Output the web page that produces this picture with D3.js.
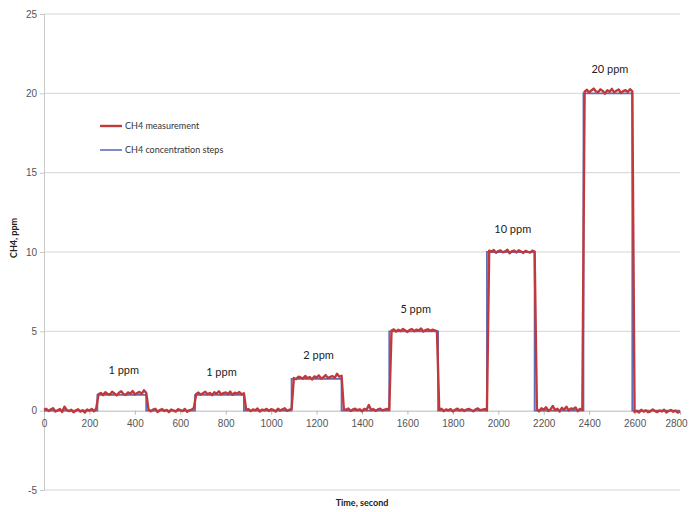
<!DOCTYPE html>
<html>
<head>
<meta charset="utf-8">
<script src="https://cdn.jsdelivr.net/npm/d3@7"></script>
<style>
  body { margin: 0; background: #fff; }
  svg { display: block; font-family: Lato, "Open Sans", sans-serif; }
</style>
</head>
<body>
<svg id="chart" width="689" height="512"></svg>
<script>
// measurement sampled every 10 s, 0..2800
const measStart = 0, measStep = 10;
const measValues = [
  0.05, 0.12, -0.02, 0.08, 0.15, -0.05, 0.02, 0.10, -0.08, 0.25, 0.04, -0.03, 0.06, -0.10, 0.01, 0.09, -0.06, 0.03, -0.12, 0.07, 0.00, 0.11, -0.04, 0.14,
  1.03, 1.12, 0.98, 1.16, 1.05, 1.01, 1.19, 1.08, 0.96, 1.13, 1.22, 1.04, 0.99, 1.15, 1.07, 1.24, 1.02, 1.11, 1.18, 1.06, 1.28, 1.13,
  0.08, -0.04, 0.06, 0.12, -0.08, 0.03, 0.10, -0.02, 0.05, -0.10, 0.07, 0.01, -0.06, 0.09, 0.04, -0.03, 0.11, -0.07, 0.02, 0.06, 0.18,
  1.05, 1.14, 1.01, 1.10, 1.19, 1.03, 1.12, 0.98, 1.16, 1.07, 1.22, 1.02, 1.11, 1.15, 1.04, 1.20, 1.00, 1.13, 1.08, 1.17, 1.03, 1.10,
  0.06, 0.10, -0.03, 0.08, 0.02, 0.14, -0.05, 0.07, 0.03, 0.11, -0.02, 0.09, 0.05, -0.06, 0.12, 0.01, 0.08, 0.15, -0.01, 0.06, 0.10,
  2.06, 1.99, 2.14, 2.09, 2.02, 2.19, 2.04, 2.12, 1.96, 2.16, 2.08, 2.22, 2.03, 2.10, 2.24, 2.05, 2.13, 2.18, 2.07, 2.32, 2.14, 2.20,
  0.10, 0.05, 0.14, -0.02, 0.08, 0.12, 0.03, 0.09, -0.04, 0.11, 0.06, 0.35, 0.04, 0.10, -0.01, 0.08, 0.13, 0.02, 0.07, 0.11, 0.05,
  5.05, 5.12, 4.98, 5.10, 5.02, 5.15, 5.06, 4.96, 5.09, 5.14, 5.01, 5.11, 5.04, 5.18, 4.99, 5.08, 5.13, 5.03, 5.10, 5.06, 5.00,
  0.05, 0.12, -0.03, 0.08, 0.02, 0.10, -0.05, 0.06, 0.13, 0.01, 0.09, -0.02, 0.07, 0.11, 0.04, -0.04, 0.08, 0.14, 0.03, 0.06, 0.10, 0.02,
  10.08, 10.02, 10.12, 9.95, 10.06, 10.10, 9.98, 10.04, 10.14, 9.92, 10.05, 10.09, 9.97, 10.11, 10.03, 9.94, 10.07, 10.01, 9.96, 10.08, 10.02,
  0.10, -0.04, 0.15, 0.05, 0.22, -0.02, 0.08, 0.30, 0.03, 0.12, -0.05, 0.18, 0.06, 0.25, 0.01, 0.14, 0.09, 0.20, -0.03, 0.11, 0.07,
  20.10, 20.22, 20.05, 20.18, 20.30, 20.12, 20.08, 20.25, 20.15, 19.98, 20.20, 20.10, 20.28, 20.06, 20.16, 20.24, 20.02, 20.14, 20.20, 20.08, 20.26, 20.12,
  -0.08, -0.02, -0.12, 0.05, -0.06, 0.02, -0.10, -0.04, 0.08, -0.03, -0.09, 0.01, -0.05, 0.06, -0.11, -0.02, 0.04, -0.07, 0.00, -0.12, -0.06
];

// concentration step schedule
const stepTimes  = [0, 235, 450, 665, 880, 1090, 1310, 1520, 1735, 1950, 2160, 2375, 2590, 2800];
const stepLevels = [0, 1, 0, 1, 0, 2, 0, 5, 0, 10, 0, 20, 0, 0];

// annotation labels over each plateau
const labelText  = ["1 ppm", "1 ppm", "2 ppm", "5 ppm", "10 ppm", "20 ppm"];
const labelStart = [235, 665, 1090, 1520, 1950, 2375];
const labelEnd   = [450, 880, 1310, 1735, 2160, 2590];
const labelLevel = [1.15, 1.15, 2.15, 5.05, 10.05, 20.15];
const labelNudge = [0, 2, 0, 0, 0, 0];

const xTicks = d3.range(0, 2801, 200);
const yTicks = [-5, 0, 5, 10, 15, 20, 25];

const legendNames = ["CH4 measurement", "CH4 concentration steps"];

const margin = { top: 14, right: 9, bottom: 22, left: 44 };
const width = 689, height = 512;
const measColor = "#c03a3c", stepColor = "#5e6fb8";

const svg = d3.select("#chart");

const x = d3.scaleLinear().domain([0, 2800]).range([margin.left, width - margin.right]);
const y = d3.scaleLinear().domain([-5, 25]).range([height - margin.bottom, margin.top]);

// gridlines
svg.append("g")
  .selectAll("line")
  .data(yTicks.filter(d => d !== 0))
  .enter().append("line")
  .attr("x1", x(0)).attr("x2", x(2800))
  .attr("y1", d => y(d)).attr("y2", d => y(d))
  .attr("stroke", "#d4d4d4").attr("stroke-width", 1);

// y axis
const yAxis = d3.axisLeft(y).tickValues(yTicks).tickSize(4).tickPadding(3)
  .tickFormat(d => String(d));
const yg = svg.append("g").attr("transform", `translate(${x(0)},0)`).call(yAxis);
yg.select(".domain").attr("stroke", "#c8c8c8");
yg.selectAll(".tick line").attr("stroke", "#c8c8c8");
yg.selectAll("text").attr("fill", "#555").style("font-size", "10px");

// x axis on the zero line
const xAxis = d3.axisBottom(x).tickValues(xTicks).tickSize(4).tickPadding(5)
  .tickFormat(d => String(d));
const xg = svg.append("g").attr("transform", `translate(0,${y(0)})`).call(xAxis);
xg.select(".domain").attr("stroke", "#b8b8b8");
xg.selectAll(".tick line").attr("stroke", "#b8b8b8");
xg.selectAll("text").attr("fill", "#555").style("font-size", "10px");
xg.selectAll("text").filter(d => d === 2800).attr("dx", -4);

// step series
const stepData = stepTimes.map((t, i) => [t, stepLevels[i]]);
svg.append("path")
  .datum(stepData)
  .attr("fill", "none")
  .attr("stroke", stepColor)
  .attr("stroke-width", 1.8)
  .attr("d", d3.line().x(d => x(d[0])).y(d => y(d[1])).curve(d3.curveStepAfter));

// measurement series
const measData = measValues.map((v, i) => [measStart + i * measStep, v]);
svg.append("path")
  .datum(measData)
  .attr("fill", "none")
  .attr("stroke", measColor)
  .attr("stroke-width", 2.4)
  .attr("stroke-linejoin", "round")
  .attr("d", d3.line().x(d => x(d[0])).y(d => y(d[1])));

// plateau labels
svg.append("g")
  .selectAll("text")
  .data(labelText)
  .enter().append("text")
  .attr("x", (d, i) => x((labelStart[i] + labelEnd[i]) / 2) + 2)
  .attr("y", (d, i) => y(labelLevel[i]) - 18 + labelNudge[i])
  .attr("text-anchor", "middle")
  .attr("fill", "#222")
  .style("font-size", "11px")
  .text(d => d);

// legend
const legend = svg.append("g").attr("transform", "translate(100,126)");
const legendColors = [measColor, stepColor];
const legendWidths = [2.4, 1.6];
legendNames.forEach((name, i) => {
  const row = legend.append("g").attr("transform", `translate(0,${i * 24})`);
  row.append("line")
    .attr("x1", 0).attr("x2", 22).attr("y1", 0).attr("y2", 0)
    .attr("stroke", legendColors[i]).attr("stroke-width", legendWidths[i]);
  row.append("text")
    .attr("x", 25).attr("y", 3)
    .attr("fill", "#333")
    .style("font-size", "9px")
    .text(name);
});

// axis titles
svg.append("text")
  .attr("transform", `translate(17,${(y(25) + y(-5)) / 2 - 14}) rotate(-90)`)
  .attr("text-anchor", "middle")
  .attr("font-weight", "bold")
  .attr("fill", "#222")
  .style("font-size", "9px")
  .text("CH4, ppm");

svg.append("text")
  .attr("x", 362)
  .attr("y", 506)
  .attr("text-anchor", "middle")
  .attr("font-weight", "bold")
  .attr("fill", "#222")
  .style("font-size", "9px")
  .text("Time, second");
</script>
</body>
</html>
